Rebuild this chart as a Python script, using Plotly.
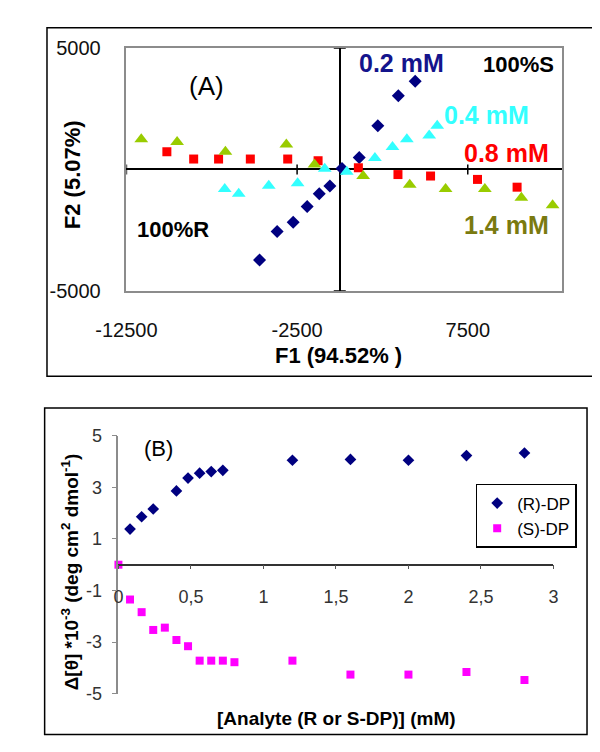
import plotly.graph_objects as go

# ---- panel (A): F1 / F2 scores ----
f1_02 = [-4700, -3670, -2730, -1910, -1200, -580, 130, 1140, 2230, 3430, 4420]
f2_02 = [-3730, -2560, -2170, -1530, -1000, -680, 40, 490, 1800, 3040, 3630]
f1_04 = [-6740, -5920, -4160, -2470, -880, 410, 2060, 3090, 3930, 5240, 5710]
f2_04 = [-800, -1000, -670, -570, 30, -90, 470, 930, 1240, 1400, 1800]
f1_08 = [-10130, -8560, -7100, -5240, -3050, -1270, 1090, 3410, 5320, 8070, 10390]
f2_08 = [730, 430, 430, 430, 430, 360, 70, -210, -270, -410, -730]
f1_14 = [-11630, -9530, -6700, -3130, -1480, 1370, 4100, 6200, 8500, 10640, 12470]
f2_14 = [1240, 1130, 730, 1030, 200, -270, -630, -800, -800, -1170, -1470]

a_xticks = [-12500, -2500, 7500]
a_xlabels = ["-12500", "-2500", "7500"]
a_yticks = [-5000, 5000]
a_ylabels = ["-5000", "5000"]

# ---- panel (B): CD signal vs analyte concentration ----
conc_r = [0.08, 0.16, 0.24, 0.40, 0.48, 0.56, 0.64, 0.72, 1.2, 1.6, 2.0, 2.4, 2.8]
theta_r = [1.38, 1.86, 2.16, 2.86, 3.36, 3.55, 3.61, 3.66, 4.05, 4.08, 4.05, 4.23, 4.33]
conc_s = [0, 0.08, 0.16, 0.24, 0.32, 0.40, 0.48, 0.56, 0.64, 0.72, 0.80, 1.2, 1.6, 2.0, 2.4, 2.8]
theta_s = [0, -1.35, -1.84, -2.53, -2.44, -2.92, -3.16, -3.72, -3.72, -3.72, -3.78,
           -3.72, -4.26, -4.26, -4.16, -4.47]

b_xticks = [0, 0.5, 1, 1.5, 2, 2.5, 3]
b_xlabels = ["0", "0,5", "1", "1,5", "2", "2,5", "3"]
b_yticks = [-5, -3, -1, 1, 3, 5]
b_ylabels = ["-5", "-3", "-1", "1", "3", "5"]

W, H = 600, 752
FONT = "Liberation Sans, Arial, sans-serif"


def px(x):
    return x / W


def py(y):
    return 1 - y / H


fig = go.Figure()

series_a = [
    (f1_02, f2_02, "diamond", 10, "#000080"),
    (f1_04, f2_04, "triangle-up", 12, "#33ffff"),
    (f1_08, f2_08, "square", 9, "#ff0000"),
    (f1_14, f2_14, "triangle-up", 12, "#99cc00"),
]
for xs, ys, sym, size, col in series_a:
    fig.add_trace(go.Scatter(x=xs, y=ys, mode="markers", showlegend=False,
                             marker=dict(symbol=sym, size=size, color=col),
                             xaxis="x", yaxis="y", cliponaxis=False))

fig.add_trace(go.Scatter(x=conc_r, y=theta_r, mode="markers", name="(R)-DP",
                         marker=dict(symbol="diamond", size=9, color="#000080"),
                         xaxis="x2", yaxis="y2", cliponaxis=False))
fig.add_trace(go.Scatter(x=conc_s, y=theta_s, mode="markers", name="(S)-DP",
                         marker=dict(symbol="square", size=8, color="#ff00ff"),
                         xaxis="x2", yaxis="y2", cliponaxis=False))

fig.update_layout(
    width=W, height=H,
    margin=dict(l=0, r=0, t=0, b=0),
    paper_bgcolor="white", plot_bgcolor="white",
    font=dict(family=FONT, color="black"),
    xaxis=dict(domain=[px(93), px(556)], range=[-12500, 13000], anchor="y",
               showgrid=False, showline=True, mirror=True, linecolor="#8c8c8c", linewidth=1.5,
               zeroline=True, zerolinecolor="black", zerolinewidth=1.5,
               tickmode="array", tickvals=a_xticks, ticktext=a_xlabels, ticks="",
               ticklabelstandoff=20, tickfont=dict(size=20, color="#111")),
    yaxis=dict(domain=[py(280), py(30)], range=[-5000, 5000], anchor="x",
               showgrid=False, showline=True, mirror=True, linecolor="#8c8c8c", linewidth=1.5,
               zeroline=True, zerolinecolor="black", zerolinewidth=1.5,
               tickmode="array", tickvals=a_yticks, ticktext=a_ylabels, ticks="",
               ticklabelstandoff=20, tickfont=dict(size=20, color="#111")),
    xaxis2=dict(domain=[px(84.5), px(547.3)], range=[0, 3], anchor="free",
                position=py(562), showgrid=False, zeroline=False,
                showline=True, linecolor="#333", linewidth=1.5,
                tickmode="array", tickvals=b_xticks, ticktext=b_xlabels,
                ticks="outside", ticklen=4, tickcolor="#555",
                ticklabelstandoff=12, tickfont=dict(size=18, color="#333")),
    yaxis2=dict(domain=[py(695), py(429.3)], range=[-5, 5], anchor="x2",
                showgrid=False, zeroline=False,
                showline=True, linecolor="#8c8c8c", linewidth=1.5,
                tickmode="array", tickvals=b_yticks, ticktext=b_ylabels,
                ticks="outside", ticklen=5, tickcolor="#8c8c8c",
                ticklabelstandoff=6, tickfont=dict(size=18, color="#333")),
    legend=dict(x=px(572), y=py(479), xanchor="right", yanchor="top",
                bgcolor="white", bordercolor="black", borderwidth=1.5,
                font=dict(size=17, color="black"), itemwidth=30,
                tracegroupgap=2),
)

shapes = [
    # outer frames of both panels
    dict(type="rect", xref="paper", yref="paper", x0=px(8.5), x1=px(593), y0=py(368), y1=py(9),
         line=dict(color="black", width=1.5)),
    dict(type="rect", xref="paper", yref="paper", x0=px(6), x1=px(583), y0=py(737), y1=py(400.7),
         line=dict(color="black", width=1.5)),
]
# tick crosses on the zero lines of panel A
for v in a_xticks:
    shapes.append(dict(type="line", xref="x", yref="y", x0=v, x1=v, ysizemode="pixel",
                       yanchor=0, y0=-5, y1=5, line=dict(color="black", width=1.5)))
for v in a_yticks:
    shapes.append(dict(type="line", xref="x", yref="y", y0=v, y1=v, xsizemode="pixel",
                       xanchor=0, x0=-6, x1=6, line=dict(color="black", width=1.5)))
fig.update_layout(shapes=shapes)


def note(text, x, y, size, color="black", bold=True, angle=0):
    t = "<b>" + text + "</b>" if bold else text
    fig.add_annotation(text=t, xref="paper", yref="paper", x=px(x), y=py(y),
                       xanchor="center", yanchor="middle", showarrow=False, textangle=angle,
                       font=dict(family=FONT, size=size, color=color))


note("(A)", 178, 69, 26, bold=False)
note("0.2 mM", 386, 45, 25, "#14148c")
note("100%S", 510, 47, 22)
note("0.4 mM", 476, 99, 25, "#33ffff")
note("0.8 mM", 497, 138, 25, "#ff0000")
note("1.4 mM", 497, 212, 25, "#7a7a10")
note("100%R", 143, 217, 22)
note("F2 (5.07%)", 35, 160, 22, angle=-90)
note("F1 (94.52% )", 319, 347, 22)

note("(B)", 127, 442, 22, bold=False)
note("Δ[θ] *10<sup>-3</sup> (deg cm<sup>2</sup> dmol<sup>-1</sup>)", 33, 570, 19, angle=-90)
note("[Analyte (R or S-DP)] (mM)", 316, 721, 19)

fig.write_html("out.html")
